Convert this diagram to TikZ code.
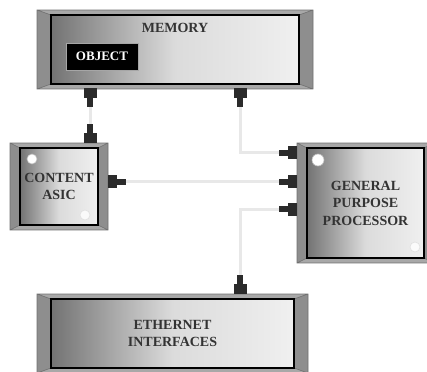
\documentclass[tikz,border=0pt]{standalone}
\usepackage{fontspec}
\setmainfont{Liberation Serif}
\usetikzlibrary{calc,backgrounds}

\definecolor{framegray}{HTML}{A8A8A8}
\definecolor{sidegray}{HTML}{8E8E8E}
\definecolor{edgegray}{HTML}{707070}
\definecolor{wiregray}{HTML}{E8E8E8}
\definecolor{pluggray}{HTML}{2B2B2B}
\definecolor{inkgray}{HTML}{333333}

\pgfdeclarehorizontalshading{panelshade}{100bp}{color(0bp)=(black!55); color(25bp)=(black!55); color(50bp)=(black!14); color(75bp)=(black!6); color(100bp)=(black!6)}

\tikzset{
  panel/.style={draw=black, line width=1.4pt, shading=panelshade, inner sep=0pt, outer sep=0pt,
    font=\fontsize{14}{17.5}\selectfont\bfseries, text=inkgray, align=center},
  plugv/.style={fill=pluggray, minimum width=13pt, minimum height=10pt, inner sep=0pt, outer sep=0pt},
  pinv/.style={fill=pluggray, minimum width=6pt, minimum height=9pt, inner sep=0pt, outer sep=0pt},
  plugh/.style={plugv, minimum width=9pt, minimum height=13pt},
  pinh/.style={pinv, minimum width=9pt, minimum height=6pt},
  wire/.style={wiregray, line width=3pt},
  spot/.style={fill=white, draw=black!25, line width=0.6pt},
}

% bevelled frame round a panel: #1 node, #2 side width, #3 top/bottom width
\newcommand\bezel[3]{%
  \coordinate (#1-a) at ($(#1.north west)+(-#2pt,#3pt)$);
  \coordinate (#1-b) at ($(#1.north east)+(#2pt,#3pt)$);
  \coordinate (#1-c) at ($(#1.south east)+(#2pt,-#3pt)$);
  \coordinate (#1-d) at ($(#1.south west)+(-#2pt,-#3pt)$);
  \fill[framegray] (#1-a) rectangle (#1-c);
  \fill[sidegray] (#1-a) -- (#1.north west) -- (#1.south west) -- (#1-d) -- cycle;
  \fill[sidegray] (#1-b) -- (#1.north east) -- (#1.south east) -- (#1-c) -- cycle;
  \draw[edgegray, line width=0.6pt] (#1-a) rectangle (#1-c)
    (#1-a) -- (#1.north west) (#1-b) -- (#1.north east)
    (#1-c) -- (#1.south east) (#1-d) -- (#1.south west);
}

\begin{document}
\begin{tikzpicture}[x=1pt,y=-1pt]
\useasboundingbox (0,0) rectangle (427,371);

% panels
\node[panel, minimum width=248pt, minimum height=69pt] (mem) at (175,49.5) {};
\node[panel, minimum width=78pt, minimum height=77pt] (asic) at (59,186.5) {CONTENT\\ASIC};
\node[panel, minimum width=117pt, minimum height=110pt] (gpp) at (365.5,203) {GENERAL\\PURPOSE\\PROCESSOR};
\node[panel, minimum width=243pt, minimum height=69pt] (eth) at (172.5,333.5) {ETHERNET\\INTERFACES};

\begin{scope}[on background layer]
  \bezel{mem}{14}{5}
  \bezel{asic}{10}{5}
  \bezel{gpp}{10}{5}
  \bezel{eth}{14}{5}
\end{scope}

\node[font=\fontsize{14}{17}\selectfont\bfseries, text=inkgray] (memtitle) at ($(mem.north)+(0,-13pt)$) {MEMORY};
\node[fill=black, draw=black!35, line width=0.8pt, text=white, font=\fontsize{13}{15}\selectfont\bfseries,
  minimum width=72pt, minimum height=27pt, inner sep=0pt] (obj) at (102,56.5) {OBJECT};

% highlights
\fill[spot] (32,159) circle (5pt);
\fill[spot, draw=black!12, fill opacity=0.8] (85,215) circle (5pt);
\fill[spot] (318,160) circle (6pt);
\fill[spot, draw=black!12, fill opacity=0.8] (415,247) circle (5pt);

% connectors
\node[plugv, anchor=north] (m1b) at (90,88) {};
\node[pinv, anchor=north] (m1) at (m1b.south) {};
\node[plugv, anchor=north] (m2b) at (240,88) {};
\node[pinv, anchor=north] (m2) at (m2b.south) {};
\node[plugv, anchor=south] (a1b) at (90,143) {};
\node[pinv, anchor=south] (a1) at (a1b.north) {};
\node[plugh, anchor=west] (a2b) at (108,181.5) {};
\node[pinh, anchor=west] (a2) at (a2b.east) {};
\node[plugh, anchor=east] (g1b) at (297,153) {};
\node[pinh, anchor=east] (g1) at (g1b.west) {};
\node[plugh, anchor=east] (g2b) at (297,181.5) {};
\node[pinh, anchor=east] (g2) at (g2b.west) {};
\node[plugh, anchor=east] (g3b) at (297,209) {};
\node[pinh, anchor=east] (g3) at (g3b.west) {};
\node[plugv, anchor=south] (e1b) at (240,294) {};
\node[pinv, anchor=south] (e1) at (e1b.north) {};

% wires
\draw[wire] (m1.south) -- (a1.north);
\draw[wire] (m2.south) |- (g1.west);
\draw[wire] (a2.east) -- (g2.west);
\draw[wire] (g3.west) -| (e1.north);
\end{tikzpicture}
\end{document}
